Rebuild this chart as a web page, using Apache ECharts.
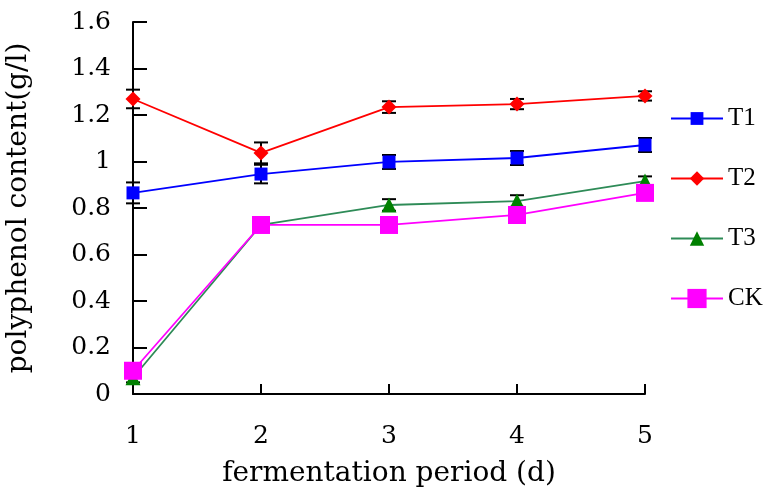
<!DOCTYPE html>
<html>
<head>
<meta charset="utf-8">
<script src="https://cdn.jsdelivr.net/npm/echarts@6/dist/echarts.min.js"></script>
<style>
  html, body { margin: 0; padding: 0; background: #fff; }
  #main { width: 764px; height: 489px; }
</style>
</head>
<body>
<div id="main"></div>
<script>
var days = ['1', '2', '3', '4', '5'];
var t1 = [0.865, 0.946, 0.998, 1.015, 1.071];
var t2 = [1.269, 1.037, 1.234, 1.247, 1.282];
var t3 = [0.07, 0.727, 0.813, 0.83, 0.916];
var ck = [0.1, 0.727, 0.727, 0.77, 0.865];
var t1Err = [0.045, 0.04, 0.03, 0.03, 0.03];
var t2Err = [0.04, 0.045, 0.025, 0.022, 0.02];
var t3Err = [0.02, 0.02, 0.025, 0.025, 0.02];
var ckErr = [0.02, 0.02, 0.02, 0.02, 0.02];

var font = '"DejaVu Serif", "Liberation Serif", serif';
var chart = echarts.init(document.getElementById('main'));

// error bars drawn as a custom series on the same axes
function errSeries(vals, errs) {
  var data = vals.map(function (v, i) { return [i, v - errs[i], v + errs[i]]; });
  return {
    type: 'custom',
    silent: true,
    clip: false,
    z: 1,
    data: data,
    renderItem: function (params, api) {
      var lo = api.coord([api.value(0), api.value(1)]);
      var hi = api.coord([api.value(0), api.value(2)]);
      var w = 7;
      var st = { stroke: '#000', lineWidth: 2 };
      return {
        type: 'group',
        children: [
          { type: 'line', shape: { x1: lo[0], y1: lo[1], x2: hi[0], y2: hi[1] }, style: st },
          { type: 'line', shape: { x1: lo[0] - w, y1: lo[1], x2: lo[0] + w, y2: lo[1] }, style: st },
          { type: 'line', shape: { x1: hi[0] - w, y1: hi[1], x2: hi[0] + w, y2: hi[1] }, style: st }
        ]
      };
    }
  };
}

function lineSeries(name, vals, color, markColor, symbol, size) {
  return {
    name: name,
    type: 'line',
    data: vals,
    symbol: symbol,
    symbolSize: size,
    z: 3,
    lineStyle: { color: color, width: 1.8 },
    itemStyle: { color: markColor }
  };
}

function legendAt(name, top, h) {
  return {
    data: [name],
    orient: 'vertical',
    left: 670,
    top: top,
    padding: 0,
    itemWidth: 52,
    itemHeight: h,
    textStyle: { fontFamily: '"Liberation Serif", serif', fontSize: 25, color: '#000' }
  };
}

chart.setOption({
  animation: false,
  backgroundColor: '#fff',
  grid: { left: 133, right: 119, top: 22, bottom: 95, outerBoundsMode: 'none', containLabel: false },
  legend: [
    legendAt('T1', 106, 16),
    legendAt('T2', 166, 18),
    legendAt('T3', 226, 18),
    legendAt('CK', 286, 24)
  ],
  xAxis: {
    type: 'category',
    data: days,
    boundaryGap: false,
    name: 'fermentation period (d)',
    nameLocation: 'middle',
    nameGap: 66,
    nameTextStyle: { fontFamily: font, fontSize: 28, color: '#000' },
    axisLine: { lineStyle: { color: '#000', width: 2 } },
    axisTick: { inside: true, length: 10, lineStyle: { color: '#000', width: 2 } },
    axisLabel: { fontFamily: font, fontSize: 25, color: '#000', margin: 30 },
    splitLine: { show: false }
  },
  yAxis: {
    type: 'value',
    min: 0,
    max: 1.6,
    interval: 0.2,
    name: 'polyphenol content(g/l)',
    nameLocation: 'middle',
    nameGap: 100,
    nameRotate: 90,
    nameTextStyle: { fontFamily: font, fontSize: 28, color: '#000' },
    axisLine: { show: true, lineStyle: { color: '#000', width: 2 } },
    axisTick: { show: true, inside: true, length: 14, lineStyle: { color: '#000', width: 2 } },
    axisLabel: { fontFamily: font, fontSize: 25, color: '#000', margin: 22 },
    splitLine: { show: false }
  },
  series: [
    errSeries(t1, t1Err),
    errSeries(t2, t2Err),
    errSeries(t3, t3Err),
    errSeries(ck, ckErr),
    lineSeries('T1', t1, '#0000ff', '#0000ff', 'rect', 13),
    lineSeries('T2', t2, '#ff0000', '#ff0000', 'diamond', 15),
    lineSeries('T3', t3, '#2e8b57', '#008000', 'triangle', 15),
    lineSeries('CK', ck, '#ff00ff', '#ff00ff', 'rect', 18)
  ]
});
</script>
</body>
</html>
